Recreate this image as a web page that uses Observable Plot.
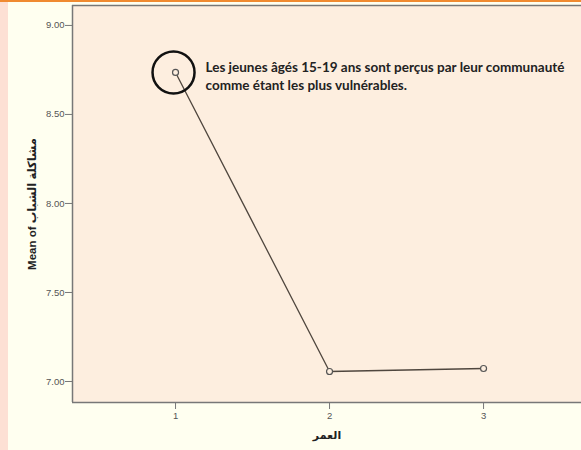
<!DOCTYPE html>
<html>
<head>
<meta charset="utf-8">
<script src="https://cdn.jsdelivr.net/npm/d3@7"></script>
<script src="https://cdn.jsdelivr.net/npm/@observablehq/plot@0.6"></script>
<style>
  html, body { margin: 0; padding: 0; background: #fffff0; }
  #wrap { position: relative; width: 581px; height: 450px; overflow: hidden; background: #fffff0; }
  #strip { position: absolute; left: 0; top: 0; width: 8px; height: 450px; background: #fde0d4; }
  #bar { position: absolute; left: 0; top: 0; width: 581px; height: 2px; background: #f08a30; }
  #chart { position: absolute; left: 0; top: 0; }
</style>
</head>
<body>
<div id="wrap">
  <div id="chart"></div>
  <div id="strip"></div>
  <div id="bar"></div>
</div>
<script>
const ageGroups = [1, 2, 3];
const meanValues = [8.736, 7.056, 7.073];
const yTicks = [7.0, 7.5, 8.0, 8.5, 9.0];
const xTicks = [1, 2, 3];
const yLabel = "Mean of مشاكلة الشباب";
const xLabel = "العمر";
const noteLines = ["Les jeunes âgés 15-19 ans sont perçus par leur communauté", "comme étant les plus vulnérables."];

const data = ageGroups.map((a, i) => ({age: a, mean: meanValues[i]}));

const chart = Plot.plot({
  width: 581,
  height: 450,
  marginLeft: 72,
  marginTop: 5,
  marginRight: 0,
  marginBottom: 48,
  style: {background: "transparent", fontFamily: "Liberation Sans, Arial, sans-serif", color: "#555"},
  x: {domain: [0.331, 3.636], label: null},
  y: {domain: [6.882, 9.112], label: null},
  marks: [
    Plot.frame({fill: "#fdeedf", stroke: null}),
    Plot.ruleX([0.331], {stroke: "#777", strokeWidth: 1.5}),
    Plot.ruleY([9.112], {stroke: "#777", strokeWidth: 1.5}),
    Plot.ruleY([6.882], {stroke: "#777", strokeWidth: 1.5}),
    Plot.axisY({ticks: yTicks, tickFormat: d3.format(".2f"), tickSize: 7, tickPadding: 1, fontSize: 9.5, stroke: "#777", fill: "#555", label: null}),
    Plot.axisX({ticks: xTicks, tickFormat: d3.format("d"), tickSize: 7, tickPadding: 3, fontSize: 9.5, stroke: "#777", fill: "#555", label: null}),
    Plot.line(data, {x: "age", y: "mean", stroke: "#4f463e", strokeWidth: 1.3}),
    Plot.dot(data, {x: "age", y: "mean", r: 3, stroke: "#555", fill: "#fdeedf", strokeWidth: 1.2}),
    Plot.dot([data[0]], {x: "age", y: "mean", r: 21, stroke: "#111", fill: "none", strokeWidth: 2.5, dx: -2}),
    Plot.text([data[0]], {x: "age", y: "mean", text: () => noteLines.join("\n"), textAnchor: "start", lineAnchor: "middle", dx: 30, dy: 2.5, lineHeight: 1.4, fontSize: 13.5, fontWeight: "bold", fontFamily: "Lato, 'Open Sans', sans-serif", fill: "#222"}),
    Plot.text([xLabel], {frameAnchor: "bottom", dy: 36, text: d => d, fontSize: 11, fontWeight: "bold", fill: "#222", fontFamily: "'DejaVu Sans', sans-serif"}),
    Plot.text([yLabel], {frameAnchor: "left", textAnchor: "middle", dx: -40, rotate: -90, text: d => d, fontSize: 11.5, fontWeight: "bold", fill: "#222", fontFamily: "'Liberation Sans', 'DejaVu Sans', sans-serif"})
  ]
});
document.getElementById("chart").appendChild(chart);
</script>
</body>
</html>
